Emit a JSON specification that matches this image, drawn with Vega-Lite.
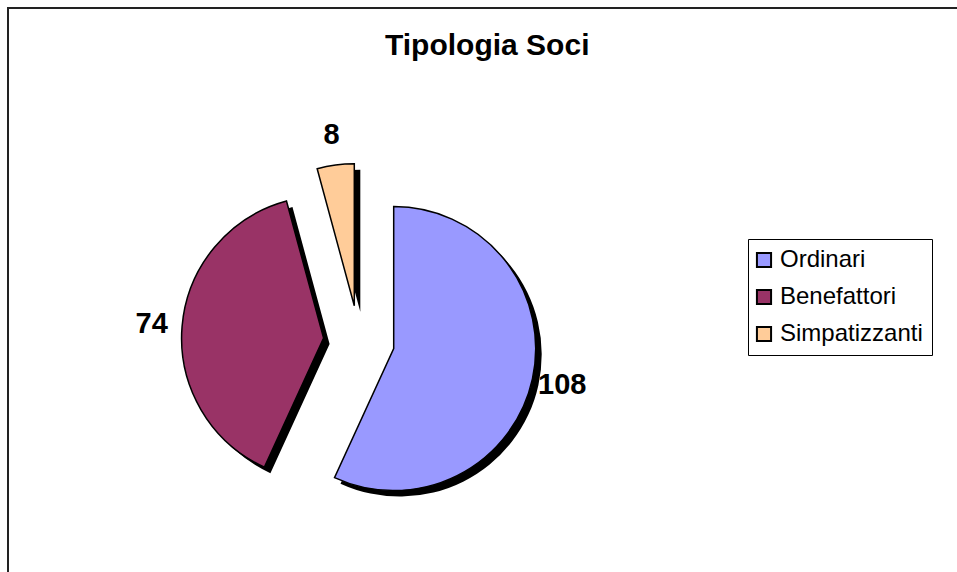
{
  "$schema": "https://vega.github.io/schema/vega-lite/v6.json",
  "width": 949,
  "height": 564,
  "autosize": {"type": "none"},
  "padding": {"left": 8, "top": 8, "right": 0, "bottom": 0},
  "background": "white",
  "config": {
    "view": {"stroke": "#222222", "strokeWidth": 2, "strokeDash": [949, 1513, 564]},
    "style": {"view": {"stroke": "#222222", "strokeWidth": 2, "strokeDash": [949, 1513, 564]}},
    "font": "Liberation Sans"
  },
  "title": {
    "text": "Tipologia Soci",
    "font": "Liberation Sans",
    "fontSize": 30,
    "fontWeight": "bold",
    "color": "black",
    "anchor": "start",
    "frame": "group",
    "baseline": "alphabetic",
    "offset": 0,
    "dy": 77,
    "dx": 377
  },
  "data": {
    "values": [
      {"tipo": "Ordinari", "soci": 108, "ordine": 1},
      {"tipo": "Benefattori", "soci": 74, "ordine": 2},
      {"tipo": "Simpatizzanti", "soci": 8, "ordine": 3}
    ]
  },
  "transform": [
    {"stack": "soci", "groupby": [], "sort": [{"field": "ordine"}], "as": ["a0", "a1"], "offset": "normalize"}
  ],
  "layer": [
    {
      "transform": [{"filter": "datum.tipo === 'Ordinari'"}],
      "mark": {"type": "arc", "radius": 142, "fill": "black", "x": {"expr": "width*0.36986"}, "y": {"expr": "height*0.59043"}, "xOffset": 40.7, "yOffset": 13.6},
      "encoding": {
        "theta": {"field": "a0", "type": "quantitative", "scale": {"domain": [0, 1], "range": [0, 6.2832]}},
        "theta2": {"field": "a1"}
      }
    },
    {
      "transform": [{"filter": "datum.tipo === 'Benefattori'"}],
      "mark": {"type": "arc", "radius": 142, "fill": "black", "x": {"expr": "width*0.36986"}, "y": {"expr": "height*0.59043"}, "xOffset": -29.4, "yOffset": 3.1},
      "encoding": {
        "theta": {"field": "a0", "type": "quantitative", "scale": {"domain": [0, 1], "range": [0, 6.2832]}},
        "theta2": {"field": "a1"}
      }
    },
    {
      "transform": [{"filter": "datum.tipo === 'Simpatizzanti'"}],
      "mark": {"type": "arc", "radius": 142, "fill": "black", "x": {"expr": "width*0.36986"}, "y": {"expr": "height*0.59043"}, "xOffset": 1.3, "yOffset": -29.2},
      "encoding": {
        "theta": {"field": "a0", "type": "quantitative", "scale": {"domain": [0, 1], "range": [0, 6.2832]}},
        "theta2": {"field": "a1"}
      }
    },
    {
      "transform": [{"filter": "datum.tipo === 'Ordinari'"}],
      "mark": {"type": "arc", "radius": 142, "stroke": "black", "strokeWidth": 1.5, "x": {"expr": "width*0.36986"}, "y": {"expr": "height*0.59043"}, "xOffset": 34.7, "yOffset": 7.6},
      "encoding": {
        "theta": {"field": "a0", "type": "quantitative", "scale": {"domain": [0, 1], "range": [0, 6.2832]}},
        "theta2": {"field": "a1"},
        "color": {"field": "tipo", "type": "nominal", "scale": {"domain": ["Ordinari", "Benefattori", "Simpatizzanti"], "range": ["#9999FF", "#993366", "#FFCC99"]},
          "legend": {"orient": "none", "legendX": 740, "legendY": 231, "title": null, "strokeColor": "black", "fillColor": "white", "padding": 9, "symbolType": "square", "symbolSize": 200, "symbolStrokeColor": "black", "symbolStrokeWidth": 2, "symbolOffset": -5, "labelFontSize": 24, "labelFont": "Liberation Sans", "labelColor": "black", "rowPadding": 13, "labelOffset": 4}}
      }
    },
    {
      "transform": [{"filter": "datum.tipo === 'Benefattori'"}],
      "mark": {"type": "arc", "radius": 142, "stroke": "black", "strokeWidth": 1.5, "x": {"expr": "width*0.36986"}, "y": {"expr": "height*0.59043"}, "xOffset": -35.4, "yOffset": -2.9},
      "encoding": {
        "theta": {"field": "a0", "type": "quantitative", "scale": {"domain": [0, 1], "range": [0, 6.2832]}},
        "theta2": {"field": "a1"},
        "color": {"field": "tipo", "type": "nominal"}
      }
    },
    {
      "transform": [{"filter": "datum.tipo === 'Simpatizzanti'"}],
      "mark": {"type": "arc", "radius": 142, "stroke": "black", "strokeWidth": 1.5, "x": {"expr": "width*0.36986"}, "y": {"expr": "height*0.59043"}, "xOffset": -4.7, "yOffset": -35.2},
      "encoding": {
        "theta": {"field": "a0", "type": "quantitative", "scale": {"domain": [0, 1], "range": [0, 6.2832]}},
        "theta2": {"field": "a1"},
        "color": {"field": "tipo", "type": "nominal"}
      }
    },
    {
      "mark": {"type": "text", "radius": 208, "font": "Liberation Sans", "fontSize": 29, "fontWeight": "bold", "color": "black", "align": "center", "baseline": "middle", "x": {"expr": "width*0.36986"}, "y": {"expr": "height*0.59043"}},
      "encoding": {
        "theta": {"field": "soci", "type": "quantitative", "stack": true},
        "order": {"field": "ordine"},
        "text": {"field": "soci", "type": "quantitative"}
      }
    }
  ],
  "resolve": {"scale": {"theta": "independent"}}
}
